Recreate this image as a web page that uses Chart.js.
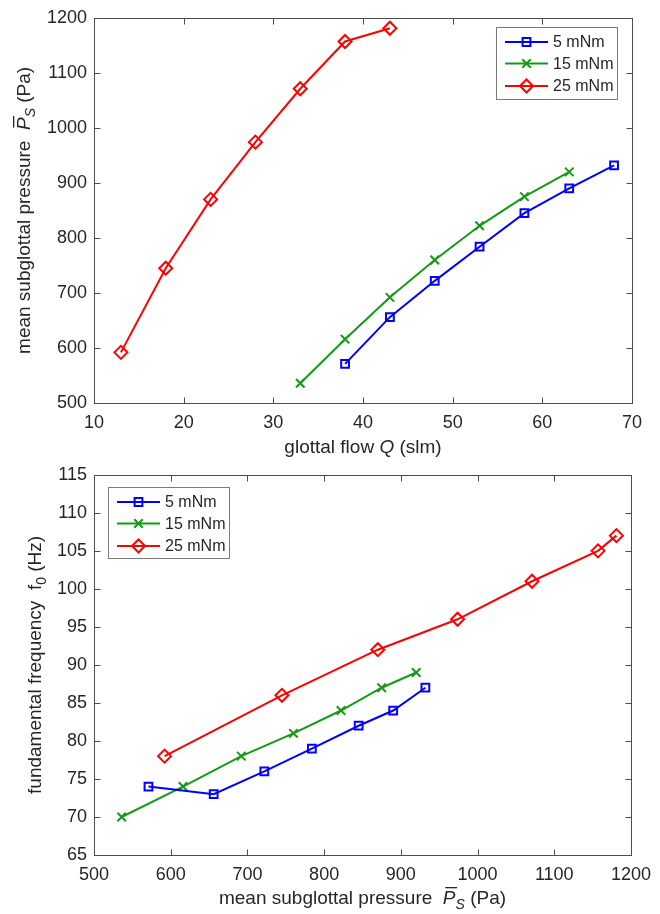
<!DOCTYPE html>
<html>
<head>
<meta charset="utf-8">
<script src="https://cdn.jsdelivr.net/npm/chart.js@4.4.0/dist/chart.umd.min.js"></script>
<style>
  body { margin: 0; background: #fff; }
  .box { position: relative; width: 660px; height: 457px; }
</style>
</head>
<body>
<div class="box"><canvas id="flow-chart"></canvas></div>
<div class="box"><canvas id="freq-chart"></canvas></div>
<script>
// series: vocal fold tension
const seriesLabels = ['5 mNm', '15 mNm', '25 mNm'];

// glottal flow Q (slm)
const flowBlue = [38, 43, 48, 53, 58, 63, 68];
const flowGreen = [33, 38, 43, 48, 53, 58, 63];
const flowRed = [13, 18, 23, 28, 33, 38, 43];

// mean subglottal pressure (Pa)
const pressBlue = [571, 656, 722, 784, 845, 890, 932];
const pressGreen = [536, 616, 692, 760, 822, 875, 920];
const pressRed = [592, 745, 870, 974, 1071, 1157, 1181];

// fundamental frequency f0 (Hz)
const f0Blue = [74, 73, 76, 79, 82, 84, 87];
const f0Green = [70, 74, 78, 81, 84, 87, 89];
const f0Red = [78, 86, 92, 96, 101, 105, 107];

const FONT = '"Liberation Sans", Arial, Helvetica, sans-serif';
const TEXT = '#262626';
const AXIS = '#4d4d4d';
const colors = ['#0000ff', '#149a14', '#ff0000'];
const markers = ['rect', 'crossRot', 'rectRot'];
const markerSize = [5.5, 6, 6.5];

function pairs(xs, ys) {
  return xs.map((x, i) => ({ x: x, y: ys[i] }));
}

function makeDatasets(xsList, ysList) {
  return seriesLabels.map((label, i) => ({
    label: label,
    data: pairs(xsList[i], ysList[i]),
    borderColor: colors[i],
    backgroundColor: 'transparent',
    borderWidth: 2,
    pointStyle: markers[i],
    pointRadius: markerSize[i],
    pointBorderWidth: 2,
    pointBorderColor: colors[i],
    pointBackgroundColor: 'rgba(0,0,0,0)',
    tension: 0,
    fill: false
  }));
}

function scaleOpts(min, max, step, which, size) {
  return {
    type: 'linear',
    min: min,
    max: max,
    ticks: {
      stepSize: step, color: TEXT, autoSkip: false, maxRotation: 0,
      font: { family: FONT, size: 18 },
      padding: which === 'x' ? 9 : 7,
      callback: v => String(v)
    },
    grid: { display: false, drawTicks: false },
    border: { display: false },
    afterFit: s => { if (which === 'x') s.height = size; else s.width = size; }
  };
}

function richWidth(ctx, segs) {
  let w = 0;
  segs.forEach(s => { ctx.font = s.font; w += ctx.measureText(s.t).width; });
  return w;
}

function drawRich(ctx, segs, cx, cy, vertical) {
  ctx.save();
  ctx.translate(cx, cy);
  if (vertical) ctx.rotate(-Math.PI / 2);
  let x = -richWidth(ctx, segs) / 2;
  ctx.fillStyle = TEXT;
  ctx.textAlign = 'left';
  ctx.textBaseline = 'alphabetic';
  segs.forEach(s => {
    ctx.font = s.font;
    const w = ctx.measureText(s.t).width;
    ctx.fillText(s.t, x, s.dy || 0);
    if (s.bar) ctx.fillRect(x + 2.5, -17, w - 1, 1.3);
    x += w;
  });
  ctx.restore();
}

function drawMarker(ctx, style, r, x, y) {
  ctx.beginPath();
  if (style === 'rect') {
    const h = r * Math.SQRT1_2;
    ctx.rect(x - h, y - h, 2 * h, 2 * h);
  } else if (style === 'crossRot') {
    const h = r * Math.SQRT1_2;
    ctx.moveTo(x - h, y - h); ctx.lineTo(x + h, y + h);
    ctx.moveTo(x - h, y + h); ctx.lineTo(x + h, y - h);
  } else {
    ctx.moveTo(x, y - r); ctx.lineTo(x + r, y); ctx.lineTo(x, y + r); ctx.lineTo(x - r, y);
    ctx.closePath();
  }
  ctx.stroke();
}

const framePlugin = {
  id: 'frame',
  afterDraw(chart, args, opts) {
    const ctx = chart.ctx;
    const a = chart.chartArea;
    const sx = chart.scales.x, sy = chart.scales.y;
    ctx.save();
    ctx.strokeStyle = AXIS;
    ctx.lineWidth = 1;
    const L = Math.round(a.left) + 0.5, R = Math.round(a.right) + 0.5;
    const T = Math.round(a.top) + 0.5, B = Math.round(a.bottom) + 0.5;
    ctx.strokeRect(L, T, R - L, B - T);
    // inward ticks on all four sides
    ctx.beginPath();
    sx.ticks.forEach(t => {
      const px = Math.round(sx.getPixelForValue(t.value)) + 0.5;
      ctx.moveTo(px, B); ctx.lineTo(px, B - 6);
      ctx.moveTo(px, T); ctx.lineTo(px, T + 6);
    });
    sy.ticks.forEach(t => {
      const py = Math.round(sy.getPixelForValue(t.value)) + 0.5;
      ctx.moveTo(L, py); ctx.lineTo(L + 6, py);
      ctx.moveTo(R, py); ctx.lineTo(R - 6, py);
    });
    ctx.stroke();

    // legend
    const lg = opts.legend;
    ctx.fillStyle = '#fff';
    ctx.fillRect(lg.x, lg.y, lg.w, lg.h);
    ctx.strokeStyle = '#7a7a7a';
    ctx.strokeRect(lg.x + 0.5, lg.y + 0.5, lg.w, lg.h);
    const rows = [15, 36.5, 59];
    chart.data.datasets.forEach((ds, i) => {
      const y = lg.y + rows[i];
      ctx.strokeStyle = ds.borderColor;
      ctx.lineWidth = 2;
      ctx.beginPath();
      ctx.moveTo(lg.x + 9, y); ctx.lineTo(lg.x + 52, y);
      ctx.stroke();
      drawMarker(ctx, ds.pointStyle, ds.pointRadius, lg.x + 30.5, y);
      ctx.fillStyle = TEXT;
      ctx.font = '16px ' + FONT;
      ctx.textAlign = 'left';
      ctx.textBaseline = 'middle';
      ctx.fillText(ds.label, lg.x + 57, y + 1);
    });

    // axis titles
    drawRich(ctx, opts.xTitle, (a.left + a.right) / 2, opts.xTitleY, false);
    drawRich(ctx, opts.yTitle, opts.yTitleX, (a.top + a.bottom) / 2, true);
    ctx.restore();
  }
};

const reg = '19px ' + FONT, ital = 'italic 19px ' + FONT;
const subIt = 'italic 14px ' + FONT, sub = '14px ' + FONT;
const pressTitle = [
  { t: 'mean subglottal pressure  ', font: reg },
  { t: 'P', font: ital, bar: true },
  { t: 'S', font: subIt, dy: 5 },
  { t: ' (Pa)', font: reg }
];

new Chart(document.getElementById('flow-chart'), {
  type: 'line',
  data: { datasets: makeDatasets([flowBlue, flowGreen, flowRed], [pressBlue, pressGreen, pressRed]) },
  options: {
    responsive: true, maintainAspectRatio: false, animation: false,
    layout: { padding: { top: 14, right: 28, left: 0, bottom: 0 } },
    scales: {
      x: scaleOpts(10, 70, 10, 'x', 54),
      y: scaleOpts(500, 1200, 100, 'y', 94)
    },
    plugins: {
      legend: { display: false },
      tooltip: { enabled: false },
      frame: {
        legend: { x: 496, y: 27, w: 121, h: 72 },
        xTitle: [
          { t: 'glottal flow ', font: reg },
          { t: 'Q', font: ital },
          { t: ' (slm)', font: reg }
        ],
        xTitleY: 453,
        yTitle: pressTitle,
        yTitleX: 30
      }
    }
  },
  plugins: [framePlugin]
});

new Chart(document.getElementById('freq-chart'), {
  type: 'line',
  data: { datasets: makeDatasets([pressBlue, pressGreen, pressRed], [f0Blue, f0Green, f0Red]) },
  options: {
    responsive: true, maintainAspectRatio: false, animation: false,
    layout: { padding: { top: 16, right: 28, left: 0, bottom: 0 } },
    scales: {
      x: scaleOpts(500, 1200, 100, 'x', 59),
      y: scaleOpts(65, 115, 5, 'y', 94)
    },
    plugins: {
      legend: { display: false },
      tooltip: { enabled: false },
      frame: {
        legend: { x: 108, y: 30, w: 121, h: 71 },
        xTitle: pressTitle,
        xTitleY: 447,
        yTitle: [
          { t: 'fundamental frequency  f', font: reg },
          { t: '0', font: sub, dy: 5 },
          { t: ' (Hz)', font: reg }
        ],
        yTitleX: 41
      }
    }
  },
  plugins: [framePlugin]
});
</script>
</body>
</html>
